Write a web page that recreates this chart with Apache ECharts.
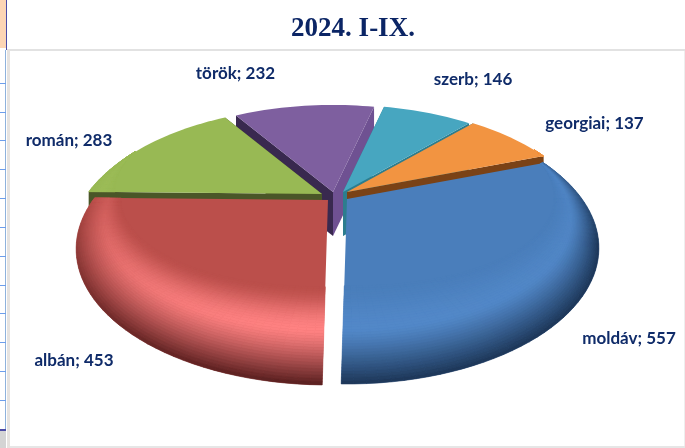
<!DOCTYPE html>
<html>
<head>
<meta charset="utf-8">
<style>html,body{margin:0;padding:0;background:#fff}#chart1{width:685px;height:448px}</style>
<script src="https://cdn.jsdelivr.net/npm/echarts@6/dist/echarts.min.js"></script>
</head>
<body>
<div id="chart1"></div>
<script>
// adatok
var categories = ['moldáv', 'albán', 'román', 'török', 'szerb', 'georgiai'];
var values = [557, 453, 283, 232, 146, 137];

// megjelenés
var baseColors = ['#4a7ebb', '#bb4f4b', '#98b954', '#7e5f9f', '#47a6c0', '#f29441'];
var hlColors = ['#5288c8', '#ff8282', '#a4c462', '#8a6cab', '#55b4ce', '#f8a050'];
var dkColors = ['#1c3556', '#571e1e', '#5d7530', '#4c3a66', '#2b7186', '#a8612a'];
var darkBias = [0.45, 0, 0, 0, 0, 0];
var darkSpan = [0.8, 1, 1, 1, 1, 1];
var hlBase = [0.6, 0.25, 0.3, 0.3, 0.3, 0.3];
// fal színek: kezdő él, záró él
var wallColors = [
    ['#333333', '#333333'],
    ['#333333', '#333333'],
    ['#4a5628', '#4a5628'],
    ['#39294f', '#6f5192'],
    ['#2c7d8e', '#2c7d8e'],
    ['#2c7d8e', '#7a4216']
];
var explode = [[11, 2], [-8, 3], [-14, -3], [-3, -5], [7, -5], [11, -5]];
var labelPos = [[629, 339], [74, 361], [69, 141], [235.5, 74], [473, 80], [594.5, 124]];

var chart = echarts.init(document.getElementById('chart1'));

// perspektíva
var cx = 336, cy = 197, R = 235, S = 118.4, K = 0.36, depth = 44;
var startDeg = 70;

var total = 0;
for (var t = 0; t < values.length; t++) total += values[t];

function sliceInfo(i) {
    var a = startDeg;
    for (var j = 0; j < i; j++) a += values[j] / total * 360;
    var b = a + values[i] / total * 360;
    var mid = (a + b) / 2 * Math.PI / 180;
    return { a: a, b: b, off: explode[i], midV: Math.cos(mid) };
}

function proj(deg, r, off) {
    var th = deg * Math.PI / 180;
    var u = r * Math.sin(th), v = r * Math.cos(th);
    var d = 1 + K * v;
    return [cx + off[0] + R * u / d, cy + off[1] - S * v / d];
}

function clamp(x) { return Math.max(0, Math.min(1, x)); }

function mix(c1, c2, f) {
    var p1 = parseInt(c1.slice(1), 16), p2 = parseInt(c2.slice(1), 16);
    var r = (p1 >> 16) + ((p2 >> 16) - (p1 >> 16)) * f;
    var g = ((p1 >> 8) & 255) + (((p2 >> 8) & 255) - ((p1 >> 8) & 255)) * f;
    var b = (p1 & 255) + ((p2 & 255) - (p1 & 255)) * f;
    return 'rgb(' + Math.round(r) + ',' + Math.round(g) + ',' + Math.round(b) + ')';
}
function toHex(c) {
    var m = c.match(/\d+/g);
    return '#' + ((1 << 24) + (+m[0] << 16) + (+m[1] << 8) + (+m[2])).toString(16).slice(1);
}

function rimWidth(v) { return Math.max(0, 0.12 - 0.3 * v); }

function rimColor(i, deg, tt) {
    var v = Math.cos(deg * Math.PI / 180);
    var hlI = hlBase[i] + (1 - hlBase[i]) * clamp(-v);
    var dkI = clamp((darkBias[i] - v) / darkSpan[i]);
    var hl = toHex(mix(baseColors[i], hlColors[i], hlI));
    var dk = toHex(mix(baseColors[i], dkColors[i], Math.pow(dkI, 0.8)));
    if (tt < 0.5) {
        var f = tt / 0.5;
        return mix(baseColors[i], hl, f * f * (3 - 2 * f));
    }
    return mix(hl, dk, Math.pow((tt - 0.5) / 0.5, 1.3));
}

function renderWall(params, api) {
    var i = api.value(0);
    var info = sliceInfo(i);
    if (info.midV <= 0) return { type: 'group', children: [] };
    var apex = [cx + info.off[0], cy + info.off[1]];
    var edges = [info.a, info.b];
    var kids = [];
    for (var e = 0; e < 2; e++) {
        var p = proj(edges[e], 1, info.off);
        kids.push({
            type: 'polygon',
            silent: true,
            shape: { points: [apex, p, [p[0], p[1] + depth], [apex[0], apex[1] + depth]] },
            style: { fill: wallColors[i][e] }
        });
    }
    return { type: 'group', children: kids };
}

function renderTop(params, api) {
    var i = api.value(0);
    var info = sliceInfo(i);
    var kids = [];
    var pts = [[cx + info.off[0], cy + info.off[1]]];
    var step = 2;
    var n = Math.ceil((info.b - info.a) / step);
    var da = (info.b - info.a) / n;
    for (var s = 0; s <= n; s++) pts.push(proj(info.a + s * da, 1, info.off));
    kids.push({ type: 'polygon', silent: true, shape: { points: pts }, style: { fill: baseColors[i] } });

    var rings = 36;
    for (var q = 0; q < n; q++) {
        var a0 = info.a + q * da, a1 = a0 + da;
        var w0 = rimWidth(Math.cos(a0 * Math.PI / 180)), w1 = rimWidth(Math.cos(a1 * Math.PI / 180));
        if (w0 <= 0 && w1 <= 0) continue;
        for (var g = 0; g < rings; g++) {
            var t0 = g / rings, t1 = (g + 1) / rings;
            var col = rimColor(i, a0 + da / 2, (t0 + t1) / 2);
            kids.push({
                type: 'polygon',
                silent: true,
                shape: { points: [
                    proj(a0, 1 - w0 * (1 - t0), info.off),
                    proj(a1, 1 - w1 * (1 - t0), info.off),
                    proj(a1, 1 - w1 * (1 - t1), info.off),
                    proj(a0, 1 - w0 * (1 - t1), info.off)
                ] },
                style: { fill: col, stroke: col, lineWidth: 0.6 }
            });
        }
    }
    return { type: 'group', children: kids };
}

function renderLabel(params, api) {
    var i = api.value(0);
    return {
        type: 'text',
        silent: true,
        style: {
            text: categories[i] + '; ' + values[i],
            x: labelPos[i][0],
            y: labelPos[i][1],
            fill: '#0f2b69',
            font: 'bold 17px Lato',
            align: 'center',
            verticalAlign: 'middle'
        }
    };
}

// hátulról előre
var drawOrder = [3, 2, 4, 5, 1, 0];
var orderData = drawOrder.map(function (d) { return [d]; });

// háttér, keret
var tickYs = [83, 112, 140, 169, 198, 227, 256, 285, 313, 342, 371, 400];
var bg = [
    { type: 'rect', shape: { x: 0, y: 0, width: 6, height: 48 }, style: { fill: '#fcd5b5' } },
    { type: 'rect', shape: { x: 6, y: 0, width: 1, height: 50 }, style: { fill: '#4b4ba6' } },
    { type: 'rect', shape: { x: 5, y: 50, width: 1, height: 380 }, style: { fill: '#8fb2dc' } },
    { type: 'rect', shape: { x: 0, y: 429, width: 6, height: 2 }, style: { fill: '#4b4ba6' } },
    { type: 'rect', shape: { x: 0, y: 431, width: 6, height: 17 }, style: { fill: '#d4d4d4' } },
    { type: 'rect', shape: { x: 7, y: 49, width: 678, height: 2 }, style: { fill: '#e2e2e2' } },
    { type: 'rect', shape: { x: 7, y: 49, width: 3, height: 399 }, style: { fill: '#e6e3e0' } },
    { type: 'rect', shape: { x: 10, y: 446, width: 675, height: 2 }, style: { fill: '#e6e6e6' } },
    { type: 'rect', shape: { x: 684, y: 51, width: 1, height: 395 }, style: { fill: '#eeeeee' } }
];
for (var y = 0; y < tickYs.length; y++) {
    bg.push({ type: 'rect', shape: { x: 0, y: tickYs[y], width: 6, height: 1 }, style: { fill: '#6d9eeb' } });
}

var option = {
    animation: false,
    backgroundColor: '#fff',
    title: {
        text: '2024. I-IX.',
        left: 348,
        top: 11,
        textAlign: 'center',
        textStyle: { fontFamily: 'Liberation Serif', fontWeight: 'bold', fontSize: 27, color: '#0b2565' }
    },
    tooltip: { show: false },
    graphic: { elements: bg },
    series: [
        { type: 'custom', coordinateSystem: 'none', renderItem: renderWall, data: orderData, z: 2, silent: true },
        { type: 'custom', coordinateSystem: 'none', renderItem: renderTop, data: orderData, z: 3, silent: true },
        { type: 'custom', coordinateSystem: 'none', renderItem: renderLabel, data: orderData, z: 4, silent: true }
    ]
};
chart.setOption(option);
</script>
</body>
</html>
